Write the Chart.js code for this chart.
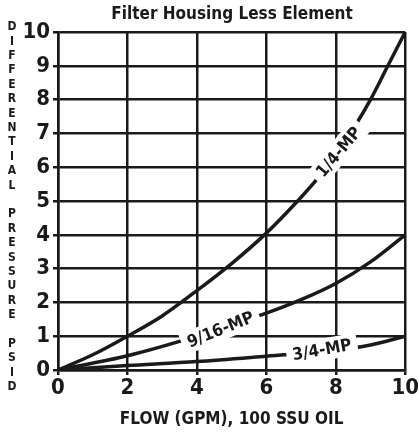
<!DOCTYPE html>
<html><head><meta charset="utf-8">
<script src="https://cdn.jsdelivr.net/npm/chart.js@4"></script>
<style>html,body{margin:0;padding:0;background:#fff}#w{width:419px;height:432px}</style>
</head><body><div id="w"><canvas id="c"></canvas></div>
<script>
const chartTitle = "Filter Housing Less Element";
const xTitle = "FLOW (GPM), 100 SSU OIL";
const yTitle = "DIFFERENTIAL PRESSURE PSID";
const xTicks = [0, 2, 4, 6, 8, 10];
const yTicks = [0,1,2,3,4,5,6,7,8,9,10];
const quarterX = [0, 1, 2, 3, 4, 5, 6, 6.9, 7.5, 8, 8.6, 9, 9.5, 10];
const quarterY = [0, 0.45, 1, 1.6, 2.35, 3.15, 4.05, 5.0, 5.7, 6.4, 7.3, 8, 9, 10];
const nineX = [0, 2, 4, 6, 7, 8, 9, 10];
const nineY = [0, 0.42, 1.0, 1.68, 2.08, 2.56, 3.2, 4.0];
const threeX = [0, 2, 4, 6, 8, 9, 10];
const threeY = [0, 0.13, 0.25, 0.41, 0.58, 0.74, 1.0];
const curveNames = ["1/4-MP", "9/16-MP", "3/4-MP"];
const labelX = [8.08, 4.68, 7.6];
const labelY = [6.45, 1.2, 0.6];
const labelAngle = [-50, -22, -10];

const pts = (xs, ys) => xs.map((x, i) => ({x, y: ys[i]}));
const FONT = "'Liberation Sans Narrow','DejaVu Sans Condensed',sans-serif";

const overlay = {
  id: 'overlay',
  afterDatasetsDraw(chart) {
    const {ctx, scales: {x, y}} = chart;
    ctx.save();
    ctx.font = "bold 17px " + FONT;
    for (let i = 0; i < curveNames.length; i++) {
      const px = x.getPixelForValue(labelX[i]);
      const py = y.getPixelForValue(labelY[i]);
      ctx.save();
      ctx.translate(px, py);
      ctx.rotate(labelAngle[i] * Math.PI / 180);
      const w = ctx.measureText(curveNames[i]).width;
      ctx.fillStyle = '#fff';
      ctx.fillRect(-w / 2 - 6, -11, w + 12, 22);
      ctx.fillStyle = '#1a1a1a';
      ctx.textAlign = 'center';
      ctx.textBaseline = 'middle';
      ctx.fillText(curveNames[i], 0, 1);
      ctx.restore();
    }
    // title
    ctx.fillStyle = '#1a1a1a';
    ctx.font = "bold 17px " + FONT;
    ctx.textAlign = 'center';
    ctx.textBaseline = 'middle';
    ctx.fillText(chartTitle, 232, 15);
    // vertical stacked y title
    ctx.font = "bold 12px " + FONT;
    const letters = yTitle.split('');
    letters.forEach((ch, k) => {
      if (ch !== ' ') ctx.fillText(ch, 12, 27 + k * 14.4);
    });
    ctx.restore();
  }
};

new Chart(document.getElementById('c'), {
  type: 'line',
  data: {
    datasets: [
      {label: curveNames[0], data: pts(quarterX, quarterY)},
      {label: curveNames[1], data: pts(nineX, nineY)},
      {label: curveNames[2], data: pts(threeX, threeY)}
    ].map(d => Object.assign(d, {borderColor: '#1a1a1a', borderWidth: 3.5, pointRadius: 0, cubicInterpolationMode: 'monotone', fill: false}))
  },
  options: {
    responsive: true, maintainAspectRatio: false, animation: false,
    layout: {padding: {top: 32, right: 8, left: 0, bottom: 0}},
    plugins: {legend: {display: false}, tooltip: {enabled: false}},
    scales: {
      x: {
        type: 'linear', min: 0, max: 10,
        afterBuildTicks: s => { s.ticks = xTicks.map(v => ({value: v})); },
        grid: {color: '#1a1a1a', lineWidth: 2.5, tickLength: 5, drawTicks: true},
        border: {color: '#1a1a1a', width: 2.5},
        ticks: {color: '#1a1a1a', font: {family: FONT, size: 22, weight: 'bold'}, padding: 0, maxRotation: 0},
        title: {display: true, text: xTitle, color: '#1a1a1a', font: {family: FONT, size: 17, weight: 'bold'}, padding: {top: 0, bottom: 2}},
        afterFit: s => { s.height = 62; }
      },
      y: {
        type: 'linear', min: 0, max: 10,
        afterBuildTicks: s => { s.ticks = yTicks.map(v => ({value: v})); },
        grid: {color: '#1a1a1a', lineWidth: 2.5, tickLength: 5},
        border: {color: '#1a1a1a', width: 2.5},
        ticks: {color: '#1a1a1a', font: {family: FONT, size: 22, weight: 'bold'}, padding: 3},
        afterFit: s => { s.width = 58; }
      }
    }
  },
  plugins: [overlay]
});
</script>
</body></html>
